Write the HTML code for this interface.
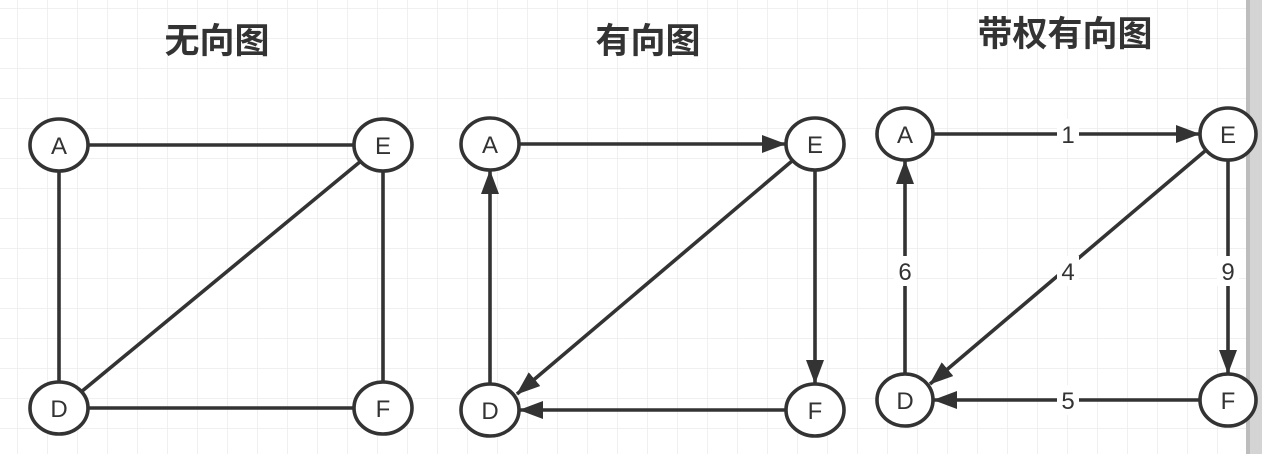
<!DOCTYPE html>
<html><head><meta charset="utf-8"><style>
html,body{margin:0;padding:0;width:1262px;height:454px;overflow:hidden;background:#fff}
text{font-family:"Liberation Sans","Noto Sans CJK SC",sans-serif;fill:#333}
</style></head><body>
<svg width="1262" height="454" xmlns="http://www.w3.org/2000/svg">
<defs>
<pattern id="g" x="17" y="8" width="30" height="30" patternUnits="userSpaceOnUse">
<path d="M0 0H30M0 0V30" stroke="#ececec" stroke-width="1.5" fill="none"/>
</pattern>
<marker id="ar" viewBox="0 0 24 18" refX="23" refY="9" markerWidth="24" markerHeight="18" markerUnits="userSpaceOnUse" orient="auto">
<path d="M0 0L24 9L0 18Z" fill="#333"/>
</marker>
</defs>
<rect width="1262" height="454" fill="url(#g)"/>
<rect x="1246" y="0" width="16" height="454" fill="#d4d4d4"/>
<rect x="1246" y="0" width="4" height="454" fill="#bdbdbd"/>
<g font-weight="bold" font-size="35" text-anchor="middle">
<text x="217" y="53">无向图</text>
<text x="648" y="53">有向图</text>
<text x="1065" y="46">带权有向图</text>
</g>
<g stroke="#333" stroke-width="3.6" fill="none">
<line x1="88" y1="145" x2="354" y2="145"/>
<line x1="59" y1="171" x2="59" y2="382"/>
<line x1="383" y1="171" x2="383" y2="382"/>
<line x1="88" y1="408" x2="354" y2="408"/>
<line x1="361" y1="161" x2="81" y2="392"/>
<line x1="519" y1="144" x2="785" y2="144" marker-end="url(#ar)"/>
<line x1="490" y1="384" x2="490" y2="171" marker-end="url(#ar)"/>
<line x1="815" y1="170" x2="815" y2="383" marker-end="url(#ar)"/>
<line x1="786" y1="410" x2="520" y2="410" marker-end="url(#ar)"/>
<line x1="792" y1="161" x2="517" y2="394" marker-end="url(#ar)"/>
<line x1="933" y1="134" x2="1199" y2="134" marker-end="url(#ar)"/>
<line x1="905" y1="374" x2="905" y2="161" marker-end="url(#ar)"/>
<line x1="1228" y1="160" x2="1228" y2="373" marker-end="url(#ar)"/>
<line x1="1199" y1="400" x2="934" y2="400" marker-end="url(#ar)"/>
<line x1="1205" y1="151" x2="930" y2="384" marker-end="url(#ar)"/>
</g>
<g fill="#fff">
<rect x="1057" y="119" width="22" height="30"/>
<rect x="894" y="256" width="22" height="30"/>
<rect x="1057" y="256" width="22" height="30"/>
<rect x="1217" y="256" width="22" height="30"/>
<rect x="1057" y="385" width="22" height="30"/>
</g>
<g font-size="24" text-anchor="middle">
<text x="1068" y="143">1</text>
<text x="905" y="280">6</text>
<text x="1068" y="280">4</text>
<text x="1228" y="280">9</text>
<text x="1068" y="409">5</text>
</g>
<g stroke="#333" stroke-width="3.6" fill="#fff">
<ellipse cx="59" cy="145" rx="29" ry="26"/><ellipse cx="383" cy="145" rx="29" ry="26"/>
<ellipse cx="59" cy="408" rx="29" ry="26"/><ellipse cx="383" cy="408" rx="29" ry="26"/>
<ellipse cx="490" cy="144" rx="29" ry="26"/><ellipse cx="815" cy="144" rx="29" ry="26"/>
<ellipse cx="490" cy="410" rx="29" ry="26"/><ellipse cx="815" cy="410" rx="29" ry="26"/>
<ellipse cx="905" cy="134" rx="28" ry="26"/><ellipse cx="1228" cy="134" rx="28" ry="26"/>
<ellipse cx="905" cy="400" rx="28" ry="26"/><ellipse cx="1228" cy="400" rx="28" ry="26"/>
</g>
<g font-size="24" text-anchor="middle">
<text x="59" y="154">A</text><text x="383" y="154">E</text>
<text x="59" y="417">D</text><text x="383" y="417">F</text>
<text x="490" y="153">A</text><text x="815" y="153">E</text>
<text x="490" y="419">D</text><text x="815" y="419">F</text>
<text x="905" y="143">A</text><text x="1228" y="143">E</text>
<text x="905" y="409">D</text><text x="1228" y="409">F</text>
</g>
</svg>
</body></html>
